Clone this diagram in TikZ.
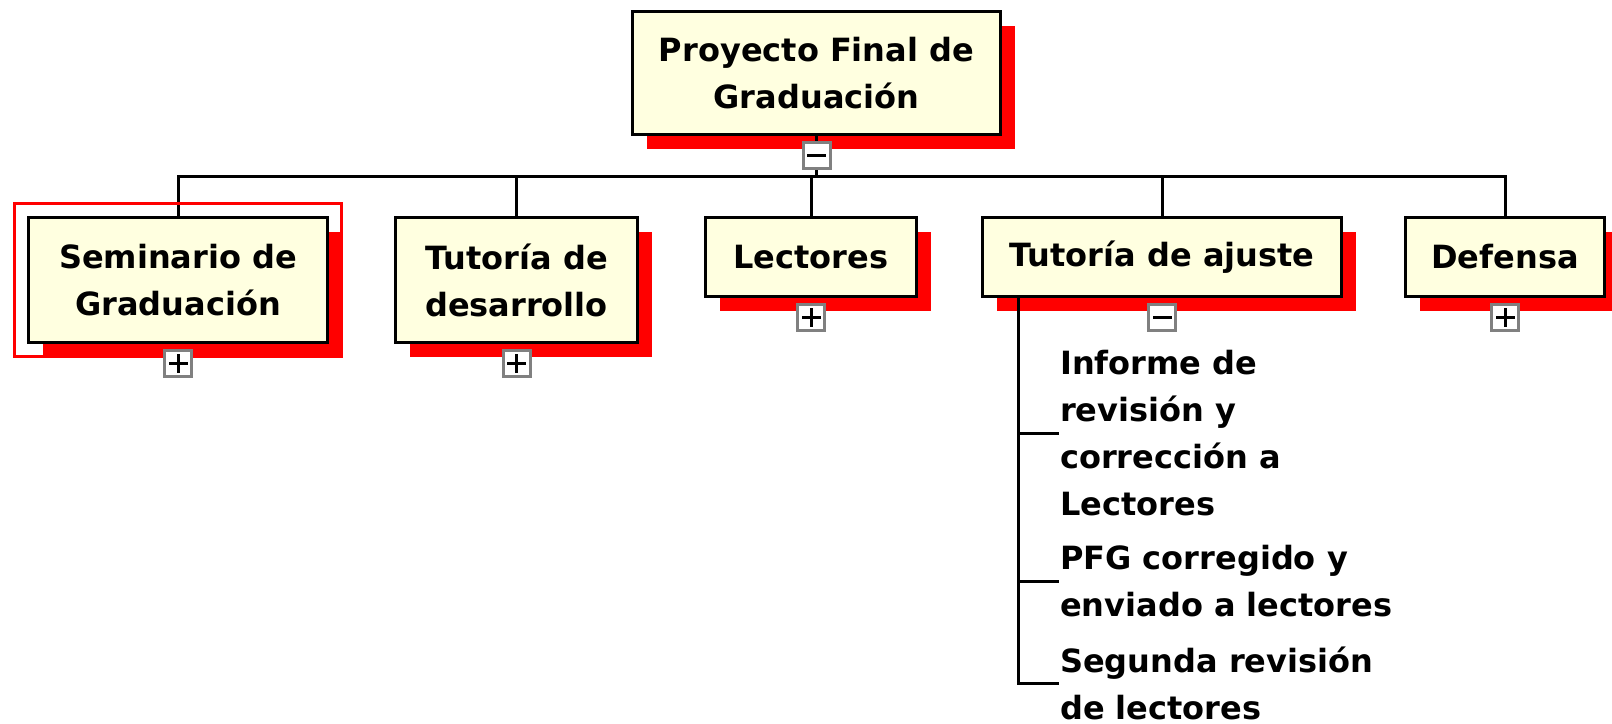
\documentclass[tikz,border=0pt]{standalone}
\usepackage{fontspec}
\setmainfont{DejaVu Sans}
\usetikzlibrary{positioning,shadows,fit}
\definecolor{ffqqqq}{rgb}{1.,0.,0.}
\definecolor{ffffde}{rgb}{1.,1.,0.8784313725490196}
\definecolor{sqsqsq}{rgb}{0.5019607843137255,0.5019607843137255,0.5019607843137255}
\tikzset{
  caja/.style={draw=black,line width=3pt,fill=ffffde,inner sep=0pt,align=center,
    font=\bfseries\fontsize{32}{47}\selectfont,
    drop shadow={fill=ffqqqq,opacity=1,shadow xshift=14pt,shadow yshift=-14pt}},
  linea/.style={black,line width=3pt},
  boton/.style={draw=sqsqsq,fill=white,line width=3pt,minimum width=27pt,minimum height=26pt,inner sep=0pt},
  mas/.style={boton,path picture={\draw[black,line width=3pt] (path picture bounding box.center) +(-8pt,0pt) -- +(8pt,0pt) (path picture bounding box.center) +(0pt,-8pt) -- +(0pt,8pt);}},
  menos/.style={boton,path picture={\draw[black,line width=3pt] (path picture bounding box.center) +(-8pt,0pt) -- +(8pt,0pt);}},
  tarea/.style={anchor=west,inner xsep=3pt,inner ysep=0pt,align=left,font=\bfseries\fontsize{32}{47}\selectfont}
}
\begin{document}
\begin{tikzpicture}[line cap=rect,line join=miter,x=1pt,y=-1pt]
\useasboundingbox (0,0) rectangle (1612,723);
\node[caja,minimum width=368pt,minimum height=123pt] (pfg) at (816.5,73) {Proyecto Final de\\Graduación};
\node[caja,minimum width=299pt,minimum height=125pt] (sem) at (178,280) {Seminario de\\Graduación};
\node[caja,minimum width=242pt,minimum height=125pt] (des) at (516.5,280) {Tutoría de\\desarrollo};
\node[caja,minimum width=211pt,minimum height=79pt] (lec) at (811,257) {Lectores};
\node[caja,minimum width=359pt,minimum height=79pt] (aju) at (1162,257) {Tutoría de ajuste};
\node[caja,minimum width=199pt,minimum height=79pt] (def) at (1505,257) {Defensa};
\coordinate (bus) at (0,176);
\draw[linea] (pfg.south) -- (pfg.south |- bus);
\draw[linea] (sem.north) -- (sem.north |- bus) -- (def.north |- bus) -- (def.north);
\foreach \n in {des,lec,aju}
  \draw[linea] (\n.north) -- (\n.north |- bus);
\node[draw=ffqqqq,line width=3pt,inner sep=12.5pt,fit=(sem)] (sel) {};
\node[menos,below=5pt of pfg] (bpfg) {};
\node[mas,below=5pt of sem] (bsem) {};
\node[mas,below=5pt of des] (bdes) {};
\node[mas,below=5pt of lec] (blec) {};
\node[menos,below=5pt of aju] (baju) {};
\node[mas,below=5pt of def] (bdef) {};
\coordinate (tronco) at ([xshift=37pt]aju.south west);
\node[tarea] (t1) at (1057,433) {Informe de\\revisión y\\corrección a\\Lectores};
\node[tarea] (t2) at (1057,581) {PFG corregido y\\enviado a lectores};
\node[tarea] (t3) at (1057,683) {Segunda revisión\\de lectores};
\draw[linea] (tronco) -- (tronco |- t3.west);
\foreach \t in {t1,t2,t3}
  \draw[linea] (tronco |- \t.west) -- (\t.west);
\end{tikzpicture}
\end{document}
